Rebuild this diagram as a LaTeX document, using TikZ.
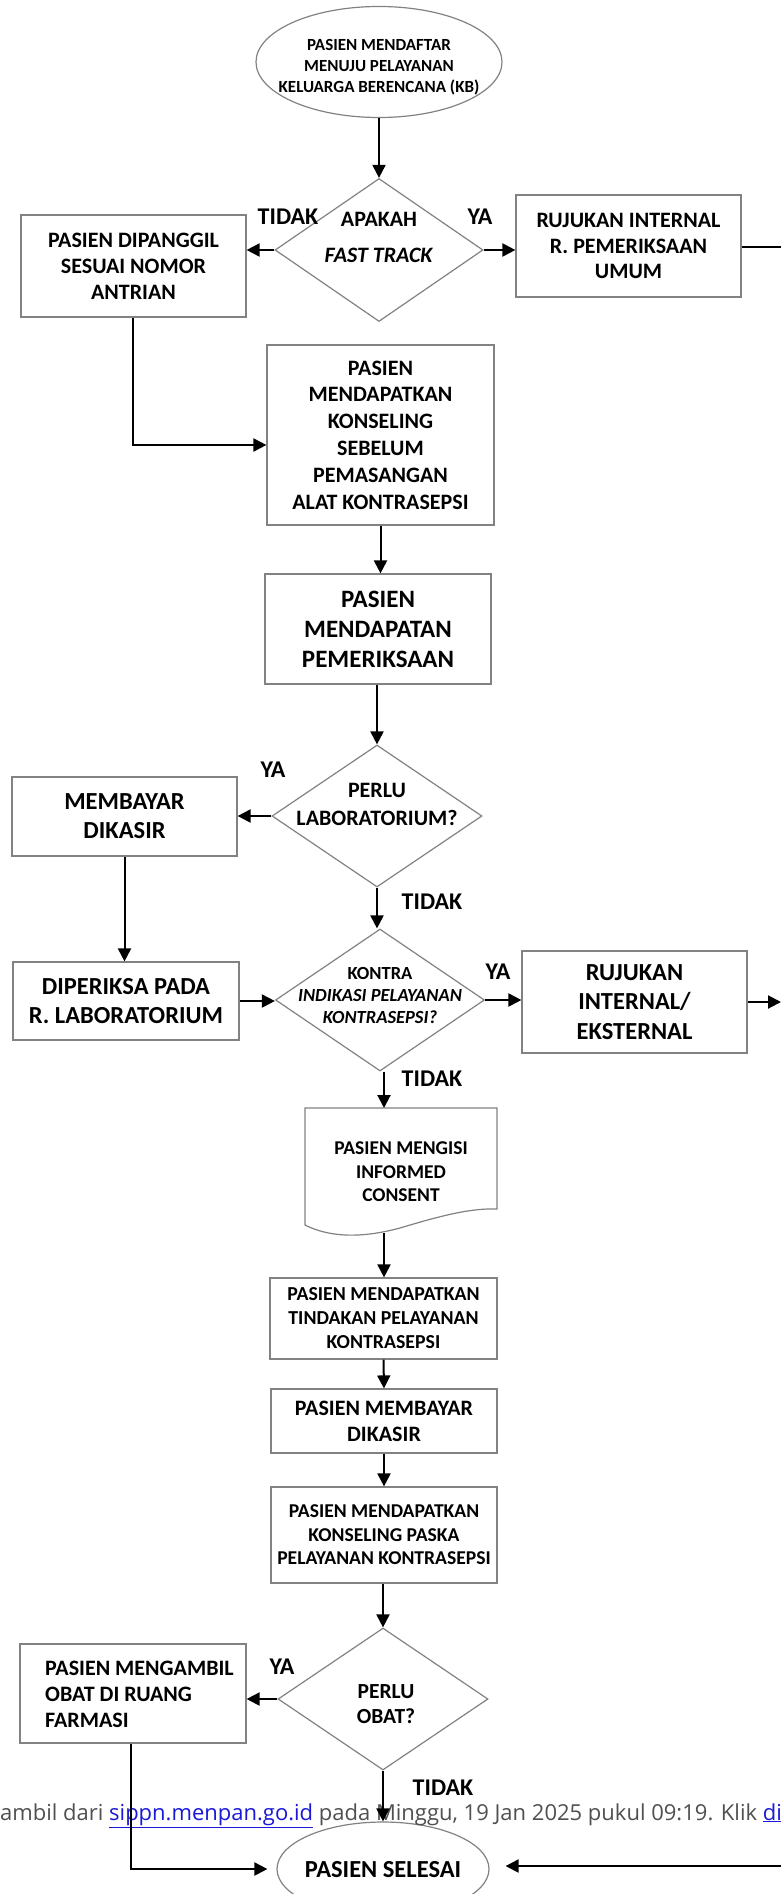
\documentclass[tikz,border=0pt]{standalone}
\usepackage{fontspec}
\setmainfont{Carlito}
\newfontfamily\wmfont{Open Sans}
\usetikzlibrary{shapes.geometric,arrows.meta}
\newcommand\fsz[2]{\bfseries\fontsize{#1pt}{#2pt}\selectfont}
\definecolor{bordergray}{RGB}{130,130,130}
\definecolor{wmgray}{RGB}{80,80,80}
\definecolor{linkblue}{RGB}{25,25,215}
\begin{document}
\begin{tikzpicture}[x=1pt,y=-1pt,
  box/.style={draw=bordergray,line width=1.2pt,inner sep=0pt,align=center},
  ell/.style={draw=bordergray,line width=1.2pt,ellipse,inner sep=0pt},
  dia/.style={draw=bordergray,line width=1.2pt,diamond,inner sep=0pt},
  txt/.style={inner sep=0pt,align=center},
  lbl/.style={inner sep=0pt,font=\fsz{24}{28}},
  conn/.style={draw=black,line width=2pt},
  arr/.style={conn,-{Triangle[length=13pt,width=13pt]}}]
\fill[white] (0,0) rectangle (781,1894);
\useasboundingbox (0,0) rectangle (781,1894);

% start
\node[ell,minimum width=246pt,minimum height=111pt] (start) at (379,62) {};
\node[txt,font=\fsz{17}{20.8}] (startt) at (379,67) {PASIEN MENDAFTAR\\MENUJU PELAYANAN\\KELUARGA BERENCANA (KB)};

% decision 1
\node[dia,minimum width=208pt,minimum height=143pt] (d1) at (379,250) {};
\node[txt,font=\fsz{22}{36}] (d1t) at (379,237) {APAKAH\\\textit{FAST TRACK}};
\node[lbl] (l1) at (288,217) {TIDAK};
\node[lbl] (l2) at (480,217) {YA};

\node[box,minimum width=225pt,minimum height=102pt,font=\fsz{22}{26}] (b1) at (133.5,266) {PASIEN DIPANGGIL\\SESUAI NOMOR\\ANTRIAN};
\node[box,minimum width=225pt,minimum height=102pt,font=\fsz{22}{25.5}] (b2) at (628.5,246) {RUJUKAN INTERNAL\\R. PEMERIKSAAN\\UMUM};

\node[box,minimum width=227pt,minimum height=180pt,font=\fsz{22}{26.8}] (b3) at (380.5,435) {PASIEN\\MENDAPATKAN\\KONSELING\\SEBELUM\\PEMASANGAN\\ALAT KONTRASEPSI};
\node[box,minimum width=226pt,minimum height=110pt,font=\fsz{25}{30}] (b4) at (378,629) {PASIEN\\MENDAPATAN\\PEMERIKSAAN};

% decision 2
\node[dia,minimum width=210pt,minimum height=142pt] (d2) at (377,816) {};
\node[txt,font=\fsz{22}{28}] (d2t) at (377,804) {PERLU\\LABORATORIUM?};
\node[lbl] (l3) at (273,770) {YA};
\node[lbl] (l4) at (432,902) {TIDAK};

\node[box,minimum width=225pt,minimum height=79pt,font=\fsz{24.5}{29}] (b5) at (124.5,816.5) {MEMBAYAR\\DIKASIR};
\node[box,minimum width=226pt,minimum height=78pt,font=\fsz{24.5}{29}] (b6) at (126,1001) {DIPERIKSA PADA\\R. LABORATORIUM};

% decision 3
\node[dia,minimum width=209pt,minimum height=142pt] (d3) at (380,1000) {};
\node[txt,font=\fsz{18.5}{22}] (d3t) at (380,995) {KONTRA\\\textit{INDIKASI PELAYANAN}\\\textit{KONTRASEPSI?}};
\node[lbl] (l5) at (498,972) {YA};
\node[lbl] (l6) at (432,1079) {TIDAK};

\node[box,minimum width=225pt,minimum height=102pt,font=\fsz{24.5}{29.5}] (b7) at (634.5,1002) {RUJUKAN\\INTERNAL/\\EKSTERNAL};

% document
\draw[draw=bordergray,line width=1.2pt] (305,1225) -- (305,1108) -- (497,1108) -- (497,1209)
  .. controls (470,1208) and (440,1216) .. (400,1228)
  .. controls (370,1236) and (335,1240) .. cycle;
\node[txt,font=\fsz{19.5}{23.5}] (doc) at (401,1172) {PASIEN MENGISI\\INFORMED\\CONSENT};
\coordinate (docb) at (384,1233);
\coordinate (doct) at (384,1108);

\node[box,minimum width=227pt,minimum height=81pt,font=\fsz{19.8}{24}] (b8) at (383.5,1318.5) {PASIEN MENDAPATKAN\\TINDAKAN PELAYANAN\\KONTRASEPSI};
\node[box,minimum width=226pt,minimum height=64pt,font=\fsz{22}{26}] (b9) at (384,1421) {PASIEN MEMBAYAR\\DIKASIR};
\node[box,minimum width=226pt,minimum height=96pt,font=\fsz{19.6}{23.5}] (b10) at (384,1535) {PASIEN MENDAPATKAN\\KONSELING PASKA\\PELAYANAN KONTRASEPSI};

% decision 4
\node[dia,minimum width=210pt,minimum height=142pt] (d4) at (383,1699) {};
\node[txt,font=\fsz{21.5}{25}] (d4t) at (386,1704.5) {PERLU\\OBAT?};
\node[lbl] (l7) at (282,1667) {YA};
\node[lbl] (l8) at (443,1788) {TIDAK};

\node[box,minimum width=226pt,minimum height=99pt] (b11) at (133,1693.5) {};
\node[txt,anchor=west,align=left,font=\fsz{22}{26}] (b11t) at (45,1694) {PASIEN MENGAMBIL\\OBAT DI RUANG\\FARMASI};

\node[ell,minimum width=212pt,minimum height=94pt] (end) at (383,1869) {};
\node[txt,font=\fsz{24.5}{29}] (endt) at (383,1870) {PASIEN SELESAI};

% bends and free ends
\coordinate (k1) at (133,445);
\coordinate (k2) at (131,1869);
\coordinate (r1) at (781,247);
\coordinate (r2) at (781,1002);
\coordinate (r3) at (781,1866);

% watermark
\node[anchor=base west,inner sep=0pt,font=\wmfont\fontsize{22pt}{26pt}\selectfont,text=wmgray] (wm) at (0,1820)
  {ambil dari \textcolor{linkblue}{\underline{sippn.menpan.go.id}} pada Minggu, 19 Jan 2025 pukul 09:19. Klik \textcolor{linkblue}{\underline{di}}};

% connectors
\draw[arr] (start.south) -- (d1.north);
\draw[arr] (d1.west) -- (d1.west -| b1.east);
\draw[arr] (d1.east) -- (d1.east -| b2.west);
\draw[conn] (b2.east |- r1) -- (r1);
\draw[arr] (b1.south -| k1) -- (k1) -- (k1 -| b3.west);
\draw[arr] (b3.south) -- (b3.south |- b4.north);
\draw[arr] (b4.south -| d2.north) -- (d2.north);
\draw[arr] (d2.west) -- (d2.west -| b5.east);
\draw[arr] (b5.south) -- (b5.south |- b6.north);
\draw[arr] (b6.east) -- (b6.east -| d3.west);
\draw[arr] (d2.south) -- (d2.south |- d3.north);
\draw[arr] (d3.east) -- (d3.east -| b7.west);
\draw[arr] (b7.east |- r2) -- (r2);
\draw[arr] (d3.south -| doct) -- (doct);
\draw[arr] (docb) -- (docb |- b8.north);
\draw[arr] (b8.south) -- (b9.north);
\draw[arr] (b9.south) -- (b10.north);
\draw[arr] (b10.south -| d4.north) -- (d4.north);
\draw[arr] (d4.west) -- (d4.west -| b11.east);
\draw[arr] (d4.south) -- (d4.south |- end.north);
\draw[arr,shorten >=9pt] (b11.south -| k2) -- (k2) -- (end.west);
\draw[arr,shorten >=16pt] (r3) -- (r3 -| end.east);
\end{tikzpicture}
\end{document}
